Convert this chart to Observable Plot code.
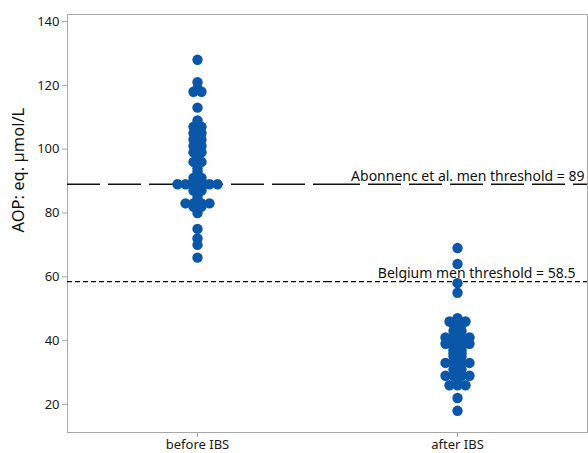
<!DOCTYPE html>
<html>
<head>
<meta charset="utf-8">
<script src="https://cdn.jsdelivr.net/npm/d3@7"></script>
<script src="https://cdn.jsdelivr.net/npm/@observablehq/plot@0.6"></script>
<style>
  html, body { margin: 0; padding: 0; background: #fff; }
  #chart svg { display: block; }
</style>
</head>
<body>
<div id="chart"></div>
<script>
const groups = ["before IBS", "after IBS"];
const beforeValues = [128, 121, 119, 118, 118, 113, 109, 107, 107, 106, 105, 105, 104, 103, 103, 102, 101, 101, 100, 99, 99, 98, 97, 96, 96, 94, 93, 91, 91, 90, 90, 89, 89, 89, 89, 89, 89, 88, 88, 87, 87, 86, 85, 84, 83, 83, 83, 83, 82, 82, 81, 80, 75, 72, 70, 66];
const afterValues = [69, 64, 58, 55, 47, 46, 46, 46, 45, 45, 44, 43, 43, 42, 41, 41, 41, 41, 40, 40, 39, 39, 39, 39, 38, 38, 37, 37, 36, 36, 35, 35, 34, 33, 33, 33, 33, 32, 31, 31, 30, 29, 29, 29, 29, 28, 26, 26, 26, 22, 18];
const thresholdValues = [89, 58.5];
const thresholdLabels = ["Abonnenc et al. men threshold = 89", "Belgium men threshold = 58.5"];
const yTicks = [20, 40, 60, 80, 100, 120, 140];
const yLabel = "AOP: eq. µmol/L";

// dot-plot layout: equal values sit side by side, centred on the group
function layout(group, values) {
  const out = [];
  for (const [v, arr] of d3.group(values, d => d)) {
    arr.forEach((_, k) => out.push({group, value: v, slot: k - (arr.length - 1) / 2}));
  }
  return out;
}
const data = [...layout(groups[0], beforeValues), ...layout(groups[1], afterValues)];
const thresholds = thresholdValues.map((v, i) => ({value: v, label: thresholdLabels[i], group: groups[1]}));

const font = "'Noto Sans', 'Open Sans', sans-serif";
const plot = Plot.plot({
  width: 588,
  height: 453,
  marginLeft: 67,
  marginRight: 1,
  marginTop: 14,
  marginBottom: 21,
  style: {fontFamily: font, fontSize: "13px", color: "#1a1a1a", background: "#fff"},
  fx: {domain: groups, padding: 0, label: null},
  x: {domain: [-16.25, 16.25], axis: null},
  y: {domain: [11.2, 142.2], ticks: yTicks, label: null},
  marks: [
    Plot.frame({facet: "super", stroke: "#a8a8a8"}),
    Plot.axisY({ticks: yTicks, tickSize: 5, tickPadding: 3, stroke: "#a8a8a8", label: null, fontSize: 13}),
    Plot.axisFx({anchor: "bottom", tickSize: 5, tickPadding: 2, stroke: "#a8a8a8", label: null, fontSize: 13}),
    Plot.text([yLabel], {facet: "super", frameAnchor: "left", rotate: -90, dx: -49, dy: 9, fontSize: 16.5, fill: "#111"}),
    Plot.ruleY([thresholdValues[0]], {stroke: "#111", strokeWidth: 1.3, strokeDasharray: "33,8"}),
    Plot.ruleY([thresholdValues[1]], {stroke: "#111", strokeWidth: 1.2, strokeDasharray: "5,3"}),
    Plot.dot(data, {fx: "group", x: "slot", y: "value", r: 5.2, fill: "#0a56a8", stroke: "none"}),
    Plot.text([thresholds[0]], {fx: "group", y: "value", text: "label", frameAnchor: "right", textAnchor: "end", dx: -3, dy: -8, fontSize: 14, fill: "#111"}),
    Plot.text([thresholds[1]], {fx: "group", y: "value", text: "label", frameAnchor: "right", textAnchor: "end", dx: -12, dy: -8, fontSize: 14, fill: "#111"})
  ]
});

document.getElementById("chart").appendChild(plot);
</script>
</body>
</html>
